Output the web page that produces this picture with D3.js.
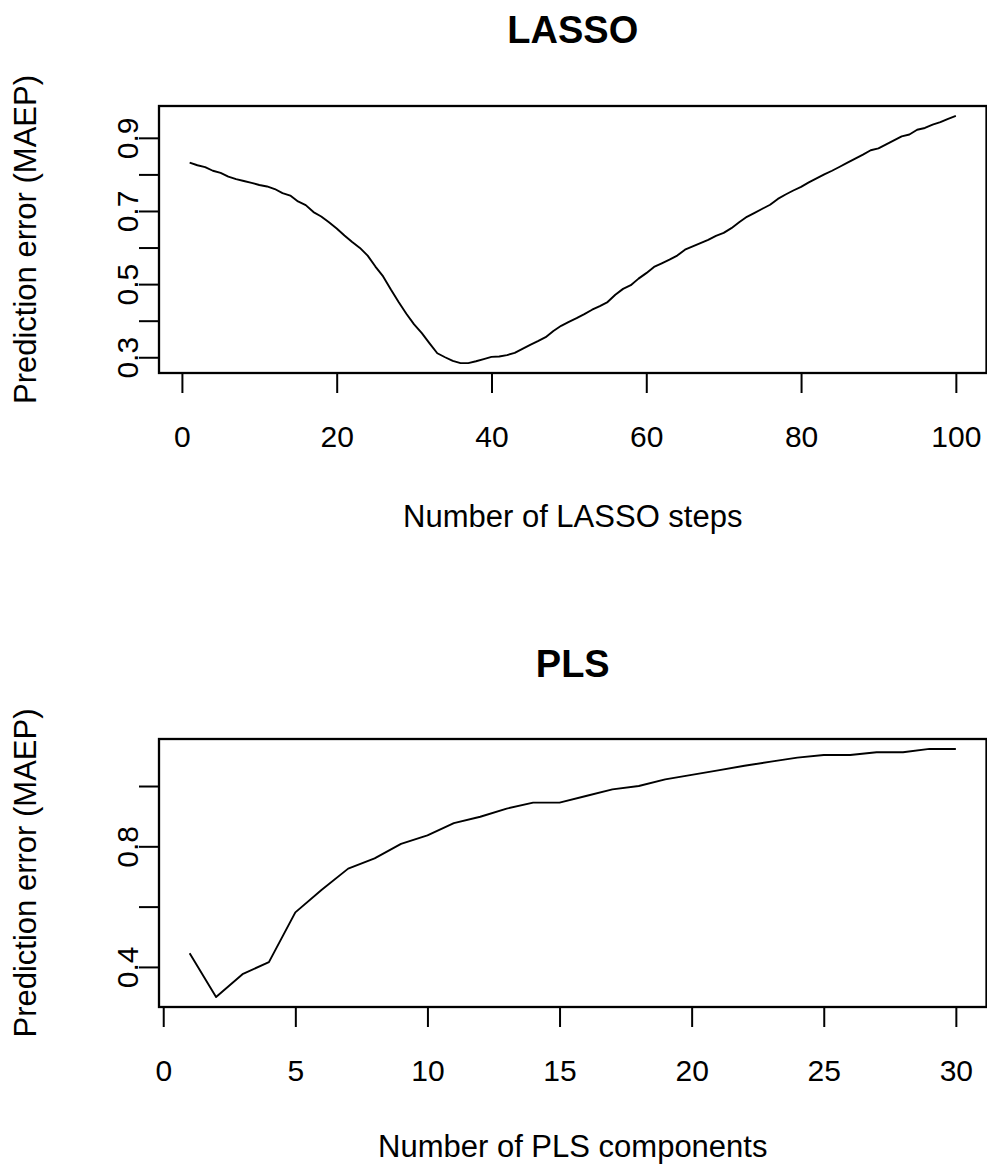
<!DOCTYPE html>
<html>
<head>
<meta charset="utf-8">
<script src="https://cdn.jsdelivr.net/npm/d3@7"></script>
<style>
  body { margin: 0; background: #fff; }
  svg { display: block; }
  text { font-family: "Liberation Sans", Arial, Helvetica, sans-serif; fill: #000; }
</style>
</head>
<body>
<div id="chart"></div>
<script>
// Datos
const lassoSteps = d3.range(1, 101);
const lassoError = [
  0.832, 0.825, 0.820, 0.810, 0.804, 0.794, 0.787, 0.782, 0.777, 0.771,
  0.767, 0.760, 0.749, 0.742, 0.726, 0.716, 0.697, 0.685, 0.669, 0.652,
  0.633, 0.615, 0.599, 0.578, 0.548, 0.521, 0.485, 0.451, 0.419, 0.390,
  0.366, 0.338, 0.311, 0.300, 0.290, 0.284, 0.284, 0.289, 0.295, 0.301,
  0.302, 0.306, 0.312, 0.323, 0.334, 0.344, 0.355, 0.372, 0.386, 0.397,
  0.407, 0.418, 0.430, 0.440, 0.451, 0.471, 0.487, 0.497, 0.515, 0.530,
  0.547, 0.557, 0.567, 0.578, 0.594, 0.603, 0.612, 0.621, 0.632, 0.640,
  0.653, 0.669, 0.684, 0.695, 0.706, 0.717, 0.733, 0.745, 0.756, 0.766,
  0.778, 0.789, 0.800, 0.810, 0.821, 0.832, 0.843, 0.854, 0.866, 0.871,
  0.882, 0.893, 0.904, 0.909, 0.922, 0.927, 0.936, 0.943, 0.952, 0.960
];
const lassoXTicks = [0, 20, 40, 60, 80, 100];
const lassoYTicks = [0.3, 0.4, 0.5, 0.6, 0.7, 0.8, 0.9];
const lassoYLabels = [0.3, 0.5, 0.7, 0.9];

const plsComponents = d3.range(1, 31);
const plsError = [
  0.445, 0.300, 0.376, 0.416, 0.581, 0.656, 0.726, 0.760, 0.808, 0.836,
  0.877, 0.898, 0.925, 0.945, 0.945, 0.967, 0.989, 1.000, 1.022, 1.037,
  1.052, 1.067, 1.081, 1.094, 1.103, 1.103, 1.112, 1.112, 1.123, 1.123
];
const plsXTicks = [0, 5, 10, 15, 20, 25, 30];
const plsYTicks = [0.4, 0.6, 0.8, 1.0];
const plsYLabels = [0.4, 0.8];

const width = 987;
const height = 1168;
const tickFont = 30;
const labelFont = 31;

const svg = d3.select('#chart')
  .append('svg')
  .attr('width', width)
  .attr('height', height);

// rango extendido un 4% por cada lado (como hace R)
function extend(ext) {
  const d = (ext[1] - ext[0]) * 0.04;
  return [ext[0] - d, ext[1] + d];
}

function drawPanel(opts) {
  const { xs, ys, top, bottom, left, right, title, xLabel, xTicks, yTicks, yLabels, titleY, xLabelY } = opts;

  const x = d3.scaleLinear()
    .domain(extend(d3.extent(xs)))
    .range([left, right]);

  const y = d3.scaleLinear()
    .domain(extend(d3.extent(ys)))
    .range([bottom, top]);

  const g = svg.append('g');

  // linea de datos
  const line = d3.line()
    .x((d, i) => x(xs[i]))
    .y(d => y(d));

  g.append('path')
    .attr('fill', 'none')
    .attr('stroke', '#000')
    .attr('stroke-width', 1.9)
    .attr('stroke-linejoin', 'round')
    .attr('d', line(ys));

  // caja
  g.append('rect')
    .attr('x', left)
    .attr('y', top)
    .attr('width', right - left)
    .attr('height', bottom - top)
    .attr('fill', 'none')
    .attr('stroke', '#000')
    .attr('stroke-width', 2.3);

  // eje x
  const axisX = d3.axisBottom(x)
    .tickValues(xTicks)
    .tickSize(20)
    .tickSizeOuter(0)
    .tickPadding(0)
    .tickFormat(d3.format('d'));

  const gx = g.append('g')
    .attr('transform', `translate(0,${bottom})`)
    .call(axisX);
  gx.select('.domain').remove();
  gx.selectAll('line').attr('stroke', '#000').attr('stroke-width', 2);
  gx.selectAll('text')
    .attr('y', 74)
    .attr('dy', null)
    .attr('font-size', tickFont)
    .attr('font-family', '"Liberation Sans", Arial, sans-serif');

  // eje y (etiquetas rotadas)
  const axisY = d3.axisLeft(y)
    .tickValues(yTicks)
    .tickSize(20)
    .tickSizeOuter(0)
    .tickFormat(d => yLabels.some(v => Math.abs(v - d) < 1e-9) ? d3.format('.1f')(d) : '');

  const gy = g.append('g')
    .attr('transform', `translate(${left},0)`)
    .call(axisY);
  gy.select('.domain').remove();
  gy.selectAll('line').attr('stroke', '#000').attr('stroke-width', 2);
  gy.selectAll('text')
    .attr('x', 0)
    .attr('y', -21)
    .attr('dy', null)
    .attr('transform', 'rotate(-90)')
    .attr('text-anchor', 'middle')
    .attr('font-size', tickFont)
    .attr('font-family', '"Liberation Sans", Arial, sans-serif');

  // titulo
  svg.append('text')
    .attr('x', (left + right) / 2)
    .attr('y', titleY)
    .attr('text-anchor', 'middle')
    .attr('font-size', 38)
    .attr('font-weight', 'bold')
    .text(title);

  // etiqueta eje x
  svg.append('text')
    .attr('x', (left + right) / 2)
    .attr('y', xLabelY)
    .attr('text-anchor', 'middle')
    .attr('font-size', labelFont)
    .text(xLabel);

  // etiqueta eje y
  svg.append('text')
    .attr('transform', `translate(36,${(top + bottom) / 2}) rotate(-90)`)
    .attr('text-anchor', 'middle')
    .attr('font-size', labelFont)
    .text('Prediction error (MAEP)');
}

drawPanel({
  xs: lassoSteps, ys: lassoError,
  top: 106, bottom: 373, left: 159, right: 986.5,
  title: 'LASSO', titleY: 43, xLabelY: 527,
  xLabel: 'Number of LASSO steps',
  xTicks: lassoXTicks, yTicks: lassoYTicks, yLabels: lassoYLabels
});

drawPanel({
  xs: plsComponents, ys: plsError,
  top: 739, bottom: 1007, left: 159, right: 986.5,
  title: 'PLS', titleY: 677, xLabelY: 1157,
  xLabel: 'Number of PLS components',
  xTicks: plsXTicks, yTicks: plsYTicks, yLabels: plsYLabels
});
</script>
</body>
</html>
